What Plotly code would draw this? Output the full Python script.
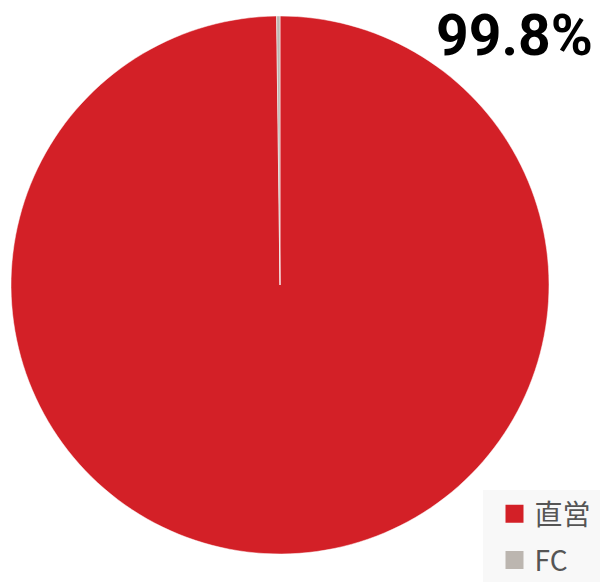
import plotly.graph_objects as go

labels = ["直営", "FC"]
values = [99.8, 0.2]
colors = ["#d32027", "#bcb6b0"]
headline = "99.8%"

fig = go.Figure(go.Pie(
    labels=labels, values=values, sort=False, direction="clockwise", rotation=0,
    marker=dict(colors=colors, line=dict(color="white", width=0.5)),
    textinfo="none", hoverinfo="skip", showlegend=False,
    domain=dict(x=[11/600, 549/600], y=[1-554/582, 1-16/582]),
))
for i, (lab, col) in enumerate(zip(labels, colors)):
    fig.add_trace(go.Scatter(x=[None], y=[None], mode="markers", name=lab,
                             legendgroup="g%d" % i,
                             marker=dict(symbol="square", size=16, color=col,
                                         line=dict(color=col, width=2)),
                             hoverinfo="skip"))
fig.add_annotation(text="<b>%s</b>" % headline, x=1, y=1, xref="paper", yref="paper",
                   xanchor="right", yanchor="top", xshift=-5, yshift=0, showarrow=False,
                   font=dict(family="Roboto", size=57, color="#000"))
fig.add_shape(type="rect", xref="paper", yref="paper", x0=483/600, x1=1, y0=0, y1=1-490/582,
              fillcolor="#f8f8f8", line=dict(width=0), layer="below")
fig.update_layout(
    width=600, height=582, margin=dict(l=0, r=0, t=0, b=0, autoexpand=False),
    paper_bgcolor="white", plot_bgcolor="rgba(0,0,0,0)",
    xaxis=dict(visible=False), yaxis=dict(visible=False),
    showlegend=True,
    legend=dict(x=494.5/600, y=1-489/582, xanchor="left", yanchor="top",
                bgcolor="rgba(0,0,0,0)",
                font=dict(family="Noto Sans CJK JP", size=28, color="#555"),
                tracegroupgap=7, itemwidth=30),
)
fig.write_html("out.html", config={"displayModeBar": False},
               post_script="document.body.style.margin='0';")
